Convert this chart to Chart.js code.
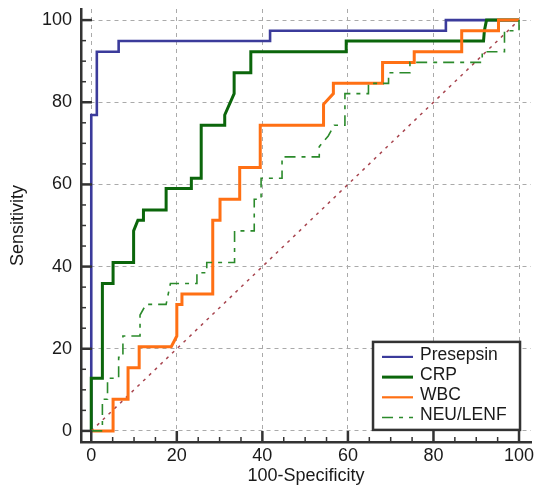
<!DOCTYPE html>
<html>
<head>
<meta charset="utf-8">
<script src="https://cdn.jsdelivr.net/npm/chart.js@4.4.1/dist/chart.umd.min.js"></script>
<style>
body { margin: 0; background: #fff; }
#wrap { width: 535px; height: 493px; }
</style>
</head>
<body>
<div id="wrap"><canvas id="roc" width="535" height="493"></canvas></div>
<script>
// ROC curves: x = 100-Specificity, y = Sensitivity (corner points)
var presepsinX = [0, 0, 1.3, 1.3, 6.4, 6.4, 41.8, 41.8, 82.9, 82.9, 100];
var presepsinY = [0, 76.9, 76.9, 92.3, 92.3, 94.9, 94.9, 97.4, 97.4, 100, 100];

var crpX = [0, 0, 2.6, 2.6, 5.1, 5.1, 9.9, 9.9, 10.9, 12.2, 12.2, 17.5, 17.5, 23.4, 23.4, 25.7, 25.7, 31.2, 31.2, 33.4, 33.4, 37.3, 37.3, 59.6, 59.6, 91.7, 91.9, 92.4, 100];
var crpY = [0, 12.8, 12.8, 35.9, 35.9, 41.0, 41.0, 48.7, 51.3, 51.3, 53.8, 53.8, 59.0, 59.0, 61.5, 61.5, 74.4, 74.4, 76.9, 82.1, 87.2, 87.2, 92.3, 92.3, 94.9, 94.9, 97.4, 100, 100];

var wbcX = [0, 5.1, 5.1, 8.6, 8.6, 11.2, 11.2, 18.7, 20.0, 20.0, 21.2, 21.2, 28.4, 28.4, 30.1, 30.1, 34.7, 34.7, 39.5, 39.5, 54.3, 54.3, 56.6, 56.6, 68.1, 68.1, 75.5, 75.5, 86.6, 86.6, 95.2, 95.2, 100];
var wbcY = [0, 0, 7.7, 7.7, 15.4, 15.4, 20.5, 20.5, 23.1, 30.8, 30.8, 33.3, 33.3, 51.3, 51.3, 56.4, 56.4, 64.1, 64.1, 74.4, 74.4, 79.5, 82.1, 84.6, 84.6, 89.7, 89.7, 92.3, 92.3, 97.4, 97.4, 100, 100];

var neuX = [0, 2.6, 2.6, 3.8, 3.8, 6.4, 6.4, 7.4, 7.4, 11.4, 11.4, 12.8, 17.5, 18.5, 24.7, 24.7, 27.0, 27.0, 33.5, 33.5, 38.1, 38.1, 39.7, 39.7, 44.6, 44.6, 53.3, 53.3, 55.4, 56.8, 59.3, 59.3, 64.8, 64.8, 69.5, 69.5, 74.5, 74.5, 91.4, 91.4, 96.6, 96.6, 100, 100];
var neuY = [0, 0, 7.7, 7.7, 12.8, 12.8, 17.9, 17.9, 23.1, 23.1, 28.2, 30.8, 30.8, 35.9, 35.9, 38.5, 38.5, 41.0, 41.0, 48.7, 48.7, 56.4, 56.4, 61.5, 61.5, 66.7, 66.7, 69.2, 71.8, 74.4, 74.4, 82.1, 82.1, 84.6, 84.6, 87.2, 87.2, 89.7, 89.7, 92.3, 92.3, 97.4, 97.4, 100];

var diagX = [0, 100];
var diagY = [0, 100];

var xTicks = [0, 20, 40, 60, 80, 100];
var yTicks = [0, 20, 40, 60, 80, 100];
var seriesNames = ["Presepsin", "CRP", "WBC", "NEU/LENF"];

var fontFam = '"Liberation Sans", Arial, sans-serif';

function toPoints(xs, ys)
{
    var pts = [];
    for (var i = 0; i < xs.length; i++) {
        pts.push({ x: xs[i], y: ys[i] });
    }
    return pts;
}

// small tick marks drawn on the inside of the two axes
var axisTicks = {
    id: 'axisTicks',
    afterDatasetsDraw: function(chart) {
        var ctx = chart.ctx, sx = chart.scales.x, sy = chart.scales.y, area = chart.chartArea;
        ctx.save();
        ctx.strokeStyle = '#333';
        for (var v = 0; v <= 100; v += 5) {
            var major = v % 20 === 0;
            var len = major ? 11 : 5;
            ctx.lineWidth = major ? 2.5 : 1.5;
            var px = sx.getPixelForValue(v);
            ctx.beginPath(); ctx.moveTo(px, area.bottom); ctx.lineTo(px, area.bottom - len); ctx.stroke();
            var py = sy.getPixelForValue(v);
            ctx.beginPath(); ctx.moveTo(area.left, py); ctx.lineTo(area.left + len, py); ctx.stroke();
        }
        ctx.restore();
    }
};

// boxed legend in the lower right corner of the plot
var boxLegend = {
    id: 'boxLegend',
    afterDraw: function(chart) {
        var ctx = chart.ctx;
        var right = chart.scales.x.getPixelForValue(100) + 1;
        var bottom = chart.scales.y.getPixelForValue(0) - 1;
        var w = 147, h = 88;
        var left = right - w, top = bottom - h;
        ctx.save();
        ctx.fillStyle = '#fff';
        ctx.fillRect(left, top, w, h);
        ctx.lineWidth = 2.5;
        ctx.strokeStyle = '#333';
        ctx.strokeRect(left, top, w, h);
        ctx.font = '17.5px ' + fontFam;
        ctx.textBaseline = 'middle';
        var row = 0;
        chart.data.datasets.forEach(function(ds) {
            if (ds.noLegend) return;
            var y = top + 15 + row * 20.2;
            ctx.strokeStyle = ds.borderColor;
            ctx.lineWidth = ds.legendWidth;
            ctx.setLineDash(ds.borderDash || []);
            ctx.beginPath(); ctx.moveTo(left + 9, y); ctx.lineTo(left + 40, y); ctx.stroke();
            ctx.setLineDash([]);
            ctx.fillStyle = '#1a1a1a';
            ctx.fillText(ds.label, left + 47, y - 2);
            row++;
        });
        ctx.restore();
    }
};

new Chart(document.getElementById('roc'), {
    type: 'line',
    data: {
        datasets: [
            { label: seriesNames[0], data: toPoints(presepsinX, presepsinY), borderColor: '#3b3b9b', borderWidth: 2.6, legendWidth: 2.2, order: 4 },
            { label: seriesNames[1], data: toPoints(crpX, crpY), borderColor: '#0b660b', borderWidth: 3, legendWidth: 3, order: 3 },
            { label: seriesNames[2], data: toPoints(wbcX, wbcY), borderColor: '#ff7014', borderWidth: 3, legendWidth: 2.2, order: 2 },
            { label: seriesNames[3], data: toPoints(neuX, neuY), borderColor: '#2b8a2b', borderWidth: 1.6, legendWidth: 1.6, borderDash: [11, 6, 4, 6], order: 1 },
            { label: 'ref', data: toPoints(diagX, diagY), borderColor: '#a8454f', borderWidth: 1.5, borderDash: [3, 5], noLegend: true, order: 5 }
        ]
    },
    options: {
        responsive: false,
        animation: false,
        layout: { padding: { top: 9, right: 4, left: 0, bottom: 0 } },
        elements: { point: { radius: 0 }, line: { tension: 0, fill: false } },
        plugins: { legend: { display: false }, tooltip: { enabled: false } },
        scales: {
            x: {
                type: 'linear', min: -2.4, max: 102.8,
                afterBuildTicks: function(s) { s.ticks = xTicks.map(function(v) { return { value: v }; }); },
                afterFit: function(s) { s.height = 51; s.paddingLeft = 0; s.paddingRight = 0; },
                grid: { color: '#aaa', lineWidth: 1, drawTicks: false },
                border: { display: true, color: '#333', width: 2.5, dash: [4, 4] },
                ticks: { padding: 3, color: '#1a1a1a', maxRotation: 0, autoSkip: false, font: { family: fontFam, size: 18 } },
                title: { display: true, text: '100-Specificity', color: '#1a1a1a', font: { family: fontFam, size: 18 }, padding: { top: 0, bottom: 6 } }
            },
            y: {
                type: 'linear', min: -2.7, max: 102.7,
                afterBuildTicks: function(s) { s.ticks = yTicks.map(function(v) { return { value: v }; }); },
                afterFit: function(s) { s.width = 81; s.paddingTop = 0; s.paddingBottom = 0; },
                grid: { color: '#aaa', lineWidth: 1, drawTicks: false },
                border: { display: true, color: '#333', width: 2.5, dash: [4, 4] },
                ticks: { padding: 9, color: '#1a1a1a', autoSkip: false, font: { family: fontFam, size: 18 } },
                title: { display: true, text: 'Sensitivity', color: '#1a1a1a', font: { family: fontFam, size: 18 }, padding: { top: 7, bottom: 0 } }
            }
        }
    },
    plugins: [axisTicks, boxLegend]
});
</script>
</body>
</html>
